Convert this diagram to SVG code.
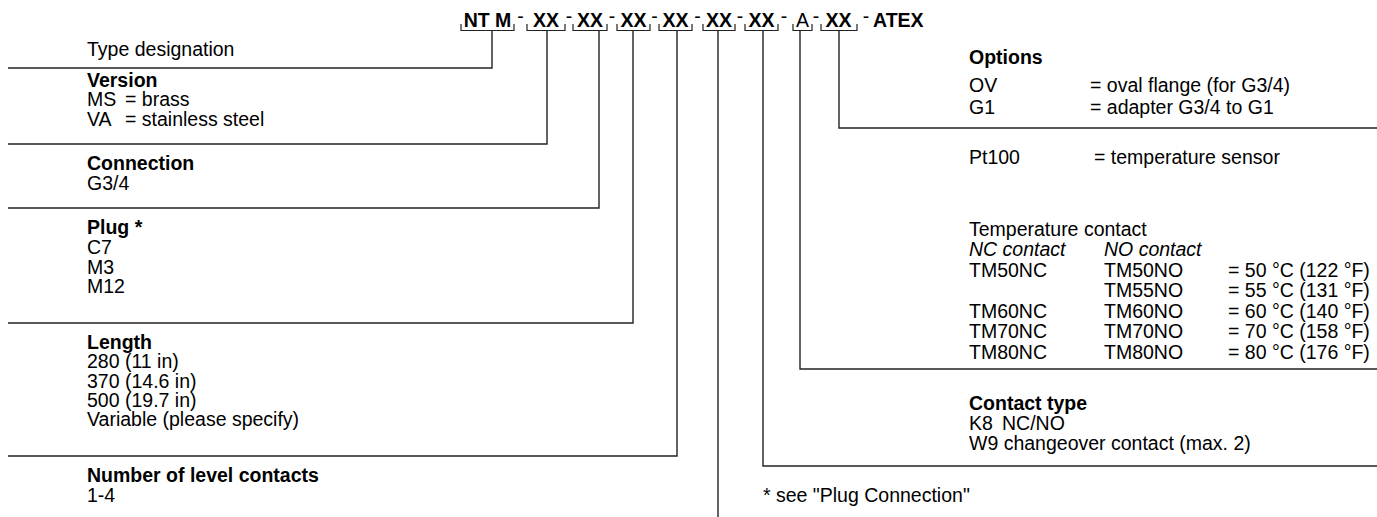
<svg xmlns="http://www.w3.org/2000/svg" width="1377" height="517" viewBox="0 0 1377 517">
<style>
text{font-family:"Liberation Sans",Arial,sans-serif;font-size:19.5px;fill:#000}
.b{font-weight:bold}
.i{font-style:italic}
.d{text-anchor:middle}
.m{text-anchor:middle;font-weight:bold}
.ln{fill:none;stroke:#222;stroke-width:1.4}
.br{fill:none;stroke:#222;stroke-width:1.2}
</style>
<rect width="1377" height="517" fill="#fff"/>
<g id="code">
<text class="m" x="487.5" y="27">NT M</text>
<text class="m" x="546" y="27">XX</text>
<text class="m" x="590" y="27">XX</text>
<text class="m" x="633.5" y="27">XX</text>
<text class="m" x="675.5" y="27">XX</text>
<text class="m" x="719" y="27">XX</text>
<text class="m" x="761.5" y="27">XX</text>
<text class="d" x="802.5" y="27">A</text>
<text class="m" x="838.5" y="27">XX</text>
<text class="b" x="873" y="27">ATEX</text>
<text class="d" x="520.5" y="23">-</text>
<text class="d" x="569" y="23">-</text>
<text class="d" x="612" y="23">-</text>
<text class="d" x="654.5" y="23">-</text>
<text class="d" x="697.5" y="23">-</text>
<text class="d" x="740" y="23">-</text>
<text class="d" x="784" y="23">-</text>
<text class="d" x="816" y="23">-</text>
<text class="d" x="866" y="23">-</text>
<path class="br" d="M461 24V30.5H514V24M527 24V30.5H565V24M573 24V30.5H607V24M617 24V30.5H650V24M659 24V30.5H692V24M703 24V30.5H735V24M745 24V30.5H778V24M793 24V30.5H812V24M821 24V30.5H857V24"/>
</g>
<g id="connectors">
<path class="ln" d="M492 30.5V68H8"/>
<path class="ln" d="M547 30.5V144H8"/>
<path class="ln" d="M599 30.5V208H8"/>
<path class="ln" d="M633 30.5V323H8"/>
<path class="ln" d="M677 30.5V456H8"/>
<path class="ln" d="M718 30.5V517"/>
<path class="ln" d="M763 30.5V466H1377"/>
<path class="ln" d="M800 30.5V369H1377"/>
<path class="ln" d="M839 30.5V128H1377"/>
</g>
<g id="type">
<text x="87" y="56">Type designation</text>
</g>
<g id="version">
<text class="b" x="87" y="87">Version</text>
<text x="87" y="106">MS</text><text x="125" y="106">= brass</text>
<text x="87" y="126">VA</text><text x="125" y="126">= stainless steel</text>
</g>
<g id="connection">
<text class="b" x="87" y="170">Connection</text>
<text x="87" y="190">G3/4</text>
</g>
<g id="plug">
<text class="b" x="87" y="234">Plug *</text>
<text x="87" y="254">C7</text>
<text x="87" y="274">M3</text>
<text x="87" y="293">M12</text>
</g>
<g id="length">
<text class="b" x="87" y="349">Length</text>
<text x="87" y="368">280 (11 in)</text>
<text x="87" y="388">370 (14.6 in)</text>
<text x="87" y="407">500 (19.7 in)</text>
<text x="87" y="426">Variable (please specify)</text>
</g>
<g id="levels">
<text class="b" x="87" y="482">Number of level contacts</text>
<text x="87" y="502">1-4</text>
</g>
<g id="options">
<text class="b" x="969" y="64">Options</text>
<text x="969" y="92">OV</text><text x="1090" y="92">= oval flange (for G3/4)</text>
<text x="969" y="114">G1</text><text x="1090" y="114">= adapter G3/4 to G1</text>
</g>
<g id="sensors">
<text x="969" y="164">Pt100</text><text x="1094" y="164">= temperature sensor</text>
<text x="969" y="236">Temperature contact</text>
<text class="i" x="969" y="256">NC contact</text><text class="i" x="1104" y="256">NO contact</text>
<text x="969" y="277">TM50NC</text><text x="1104" y="277">TM50NO</text><text x="1228" y="277">= 50 °C (122 °F)</text>
<text x="1104" y="297">TM55NO</text><text x="1228" y="297">= 55 °C (131 °F)</text>
<text x="969" y="318">TM60NC</text><text x="1104" y="318">TM60NO</text><text x="1228" y="318">= 60 °C (140 °F)</text>
<text x="969" y="338">TM70NC</text><text x="1104" y="338">TM70NO</text><text x="1228" y="338">= 70 °C (158 °F)</text>
<text x="969" y="359">TM80NC</text><text x="1104" y="359">TM80NO</text><text x="1228" y="359">= 80 °C (176 °F)</text>
</g>
<g id="contacttype">
<text class="b" x="969" y="410">Contact type</text>
<text x="969" y="430">K8</text><text x="1002" y="430">NC/NO</text>
<text x="969" y="450">W9 changeover contact (max. 2)</text>
</g>
<g id="note">
<text x="763" y="502">* see "Plug Connection"</text>
</g>
</svg>
